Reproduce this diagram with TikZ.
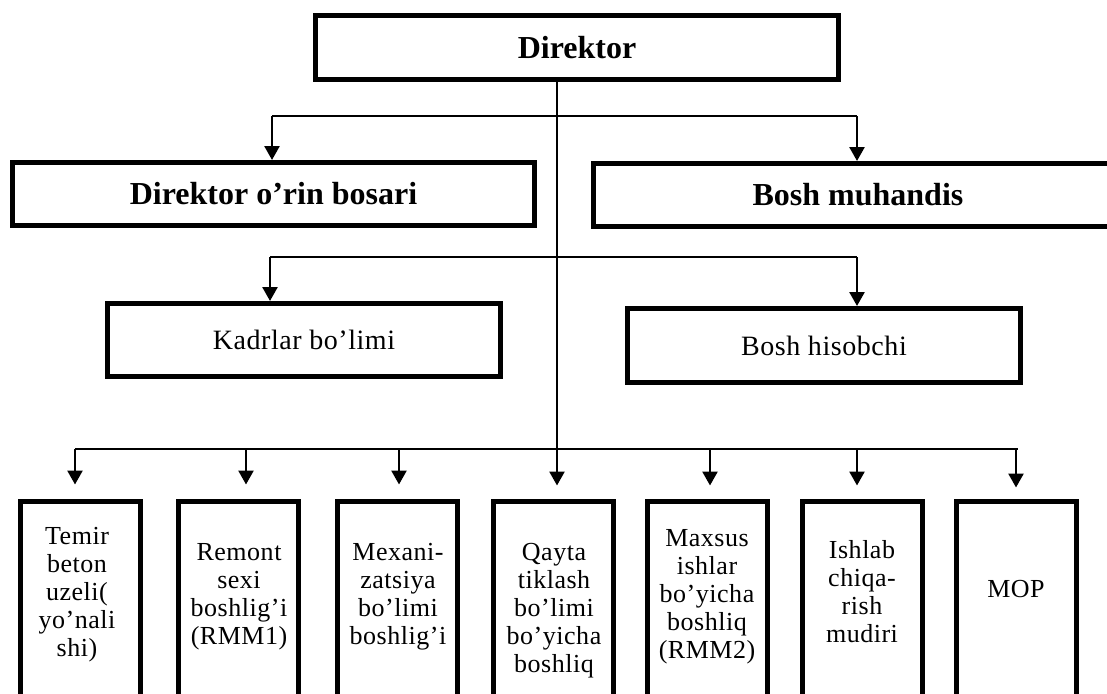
\documentclass[tikz,border=0pt]{standalone}
\usepackage{fontspec}
\setmainfont{Liberation Serif}
\newfontfamily\spaced{Liberation Serif}[LetterSpace=2]
\usetikzlibrary{arrows.meta}
\tikzset{
  headbox/.style={draw, line width=5pt, inner sep=0pt,
    font=\fontsize{32}{36}\selectfont\bfseries},
  deptbox/.style={draw, line width=5pt, inner sep=0pt,
    font=\spaced\fontsize{28}{32}\selectfont},
  unitbox/.style={draw, line width=5pt, inner sep=0pt,
    minimum width=120pt, minimum height=230pt, anchor=north},
  unittext/.style={anchor=north, align=center, inner sep=0pt,
    font=\spaced\fontsize{26}{28}\selectfont},
  link/.style={line width=2.4pt},
  feed/.style={line width=2.6pt, -{Triangle[width=15pt,length=14pt]}},
}
\begin{document}
\begin{tikzpicture}[x=1pt,y=-1pt]
\useasboundingbox (0,0) rectangle (1107,693);
\clip (0,0) rectangle (1107,693);

% top management
\node[headbox, minimum width=523pt, minimum height=64pt] (dir) at (577,47.5) {Direktor};
\node[headbox, minimum width=522pt, minimum height=63pt] (dep) at (273.5,194) {Direktor o’rin bosari};
\node[headbox, minimum width=529pt, minimum height=63pt] (eng) at (858,195) {Bosh muhandis};

% departments
\node[deptbox, minimum width=393pt, minimum height=73pt] (hr)  at (304,340) {Kadrlar bo’limi};
\node[deptbox, minimum width=393pt, minimum height=74pt] (acc) at (824,345.5) {Bosh hisobchi};

% units (boxes run past the lower edge)
\node[unitbox] (u1) at (80,498.5) {};
\node[unitbox] (u2) at (238.5,498.5) {};
\node[unitbox] (u3) at (397.5,498.5) {};
\node[unitbox] (u4) at (553.5,498.5) {};
\node[unitbox] (u5) at (707,498.5) {};
\node[unitbox] (u6) at (862,498.5) {};
\node[unitbox] (u7) at (1016.5,498.5) {};

\node[unittext] (t1) at (77,527) {Temir\\beton\\uzeli(\\yo’nali\\shi)};
\node[unittext] (t2) at (239,543) {Remont\\sexi\\boshlig’i\\(RMM1)};
\node[unittext] (t3) at (398,543) {Mexani-\\zatsiya\\bo’limi\\boshlig’i};
\node[unittext] (t4) at (554,543) {Qayta\\tiklash\\bo’limi\\bo’yicha\\boshliq};
\node[unittext] (t5) at (707,529) {Maxsus\\ishlar\\bo’yicha\\boshliq\\(RMM2)};
\node[unittext] (t6) at (862,540) {Ishlab\\chiqa-\\rish\\mudiri};
\node[unittext] (t7) at (1016,580) {MOP};

% bus junctions on the trunk
\coordinate (j1) at (557,116);
\coordinate (j2) at (557,257);
\coordinate (j3) at (557,449);

% trunk
\draw[link] (dir.south -| j1) -- (j3);

% level 1
\draw[link] (j1) -- (272,116);
\draw[link] (j1) -- (857,116);
\draw[feed] (272,116) -- (dep.north -| 272,0);
\draw[feed] (857,116) -- (eng.north -| 857,0);

% level 2
\draw[link] (j2) -- (270,257);
\draw[link] (j2) -- (857,257);
\draw[feed] (270,257) -- (hr.north -| 270,0);
\draw[feed] (857,257) -- (acc.north -| 857,0);

% level 3
\draw[link] (75,449) -- (1018,449);
\draw[feed] (75,449)  -- ([yshift=14pt]u1.north -| 75,0);
\draw[feed] (246,449) -- ([yshift=14pt]u2.north -| 246,0);
\draw[feed] (399,449) -- ([yshift=14pt]u3.north -| 399,0);
\draw[feed] (j3)      -- ([yshift=13pt]u4.north -| j3);
\draw[feed] (710,449) -- ([yshift=13pt]u5.north -| 710,0);
\draw[feed] (857,449) -- ([yshift=13pt]u6.north -| 857,0);
\draw[feed] (1016,449) -- ([yshift=11pt]u7.north -| 1016,0);
\end{tikzpicture}
\end{document}
